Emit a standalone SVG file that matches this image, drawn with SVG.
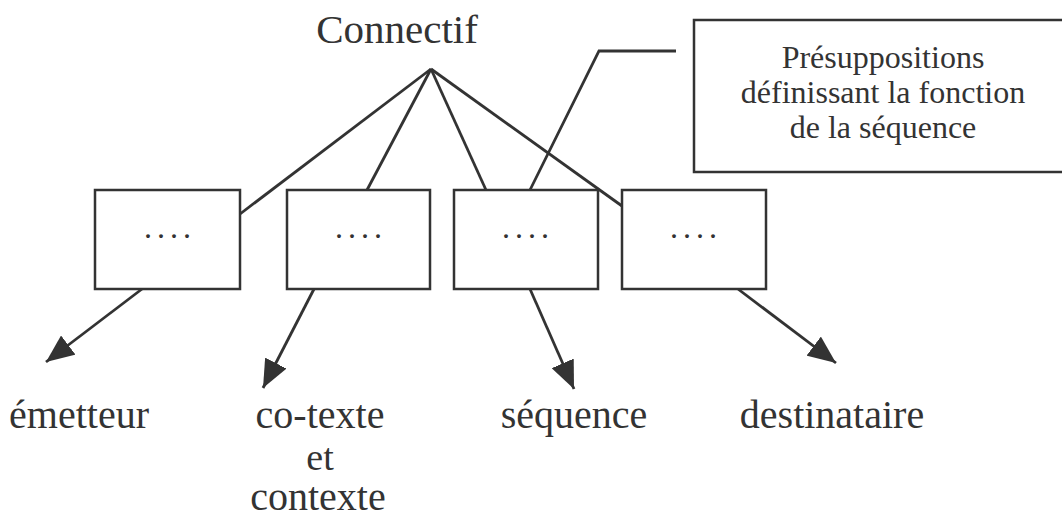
<svg xmlns="http://www.w3.org/2000/svg" width="1062" height="518" viewBox="0 0 1062 518">
<style>
  text { font-family: 'Liberation Serif', 'Times New Roman', Tinos, 'DejaVu Serif', serif; fill: #333; }
  .lbl { font-size: 40px; text-anchor: middle; }
  .lbl2 { font-size: 38px; text-anchor: middle; }
  .call { font-size: 32px; text-anchor: middle; }
  .dots { font-size: 32px; letter-spacing: 5px; text-anchor: middle; }
  .box { fill: #fff; stroke: #333; stroke-width: 2.5; }
  .ln { fill: none; stroke: #333; stroke-width: 2.8; }
</style>
<defs>
  <marker id="arr" viewBox="0 0 28 24" refX="28" refY="12" markerWidth="28" markerHeight="24" markerUnits="userSpaceOnUse" orient="auto">
    <path d="M0,0 L28,12 L0,24 z" fill="#333"/>
  </marker>
</defs>
<rect width="1062" height="518" fill="#fff"/>

<g id="connectors">
  <line class="ln" x1="431" y1="69" x2="240" y2="214"/>
  <line class="ln" x1="431" y1="69" x2="367" y2="190"/>
  <line class="ln" x1="431" y1="69" x2="486" y2="190"/>
  <line class="ln" x1="431" y1="69" x2="622" y2="206"/>
  <polyline class="ln" points="530,190 599,51 676,51"/>
  <line class="ln" x1="142" y1="289" x2="46" y2="362" marker-end="url(#arr)"/>
  <line class="ln" x1="314" y1="289" x2="263" y2="388" marker-end="url(#arr)"/>
  <line class="ln" x1="530" y1="289" x2="574" y2="389" marker-end="url(#arr)"/>
  <line class="ln" x1="738" y1="289" x2="836" y2="363" marker-end="url(#arr)"/>
</g>

<g id="connectif">
  <text x="397" y="43" font-size="41" text-anchor="middle">Connectif</text>
</g>

<g id="presuppositions">
  <rect class="box" x="694" y="20" width="372" height="152"/>
  <text class="call" x="883" y="68">Présuppositions</text>
  <text class="call" x="883" y="103">définissant la fonction</text>
  <text class="call" x="883" y="138">de la séquence</text>
</g>

<g id="box1">
  <rect class="box" x="95" y="190" width="145" height="99"/>
  <text class="dots" x="170" y="238">....</text>
</g>
<g id="box2">
  <rect class="box" x="287" y="190" width="143" height="99"/>
  <text class="dots" x="361" y="238">....</text>
</g>
<g id="box3">
  <rect class="box" x="454" y="190" width="144" height="99"/>
  <text class="dots" x="528" y="238">....</text>
</g>
<g id="box4">
  <rect class="box" x="622" y="190" width="144" height="99"/>
  <text class="dots" x="696" y="238">....</text>
</g>

<g id="emetteur">
  <text class="lbl" x="79" y="428">émetteur</text>
</g>
<g id="cotexte">
  <text class="lbl" x="320" y="428">co-texte</text>
  <text class="lbl2" x="320" y="470">et</text>
  <text class="lbl" x="318" y="510">contexte</text>
</g>
<g id="sequence">
  <text class="lbl" x="574" y="428">séquence</text>
</g>
<g id="destinataire">
  <text class="lbl" x="832" y="428">destinataire</text>
</g>
</svg>
